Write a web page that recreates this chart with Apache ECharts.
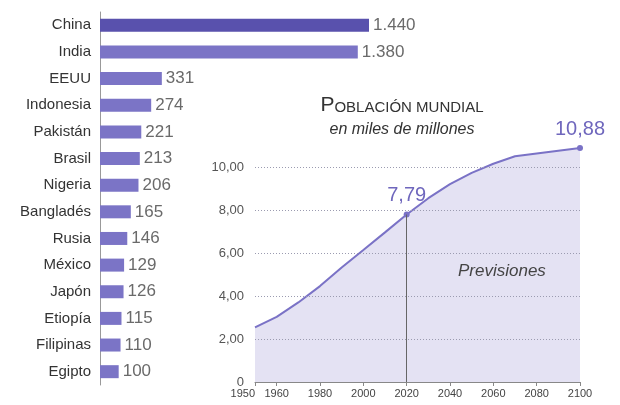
<!DOCTYPE html>
<html>
<head>
<meta charset="utf-8">
<script src="https://cdn.jsdelivr.net/npm/echarts@6/dist/echarts.min.js"></script>
<style>
  html, body { margin: 0; padding: 0; background: #fff; }
  #chart { width: 620px; height: 405px; }
</style>
</head>
<body>
<div id="chart"></div>
<script>
// población por país (millones)
const countries = ['China', 'India', 'EEUU', 'Indonesia', 'Pakistán', 'Brasil', 'Nigeria',
  'Bangladés', 'Rusia', 'México', 'Japón', 'Etiopía', 'Filipinas', 'Egipto'];
const populations = [1440, 1380, 331, 274, 221, 213, 206, 165, 146, 129, 126, 115, 110, 100];

// población mundial (miles de millones)
const years = [1950, 1960, 1970, 1980, 1990, 2000, 2010, 2020, 2030, 2040, 2050, 2060, 2070, 2080, 2090, 2100];
const worldPop = [2.54, 3.03, 3.7, 4.46, 5.33, 6.14, 6.96, 7.79, 8.55, 9.2, 9.73, 10.15, 10.5, 10.63, 10.76, 10.88];
const yearTicks = [1950, 1960, 1980, 2000, 2020, 2040, 2060, 2080, 2100];

const font = '"Liberation Sans Narrow", "Liberation Sans", sans-serif';
const purple = '#6f67bd';

const fmtThousands = v => String(v).replace(/\B(?=(\d{3})+(?!\d))/g, '.');
const fmtDec = v => v === 0 ? '0' : v.toFixed(2).replace('.', ',');

const myChart = echarts.init(document.getElementById('chart'));

const lineData = years.map((y, i) => {
  const item = { value: [y, worldPop[i]] };
  if (y === 2020 || y === 2100) {
    item.symbol = 'circle';
    item.symbolSize = 6;
    item.label = {
      show: true,
      position: 'top',
      distance: 6,
      formatter: p => fmtDec(p.value[1]),
      color: purple,
      fontSize: 20,
      fontFamily: font
    };
  }
  return item;
});

const option = {
  animation: false,
  textStyle: { fontFamily: font },
  title: {
    text: '{big|P}{small|OBLACIÓN MUNDIAL}',
    subtext: 'en miles de millones',
    left: 397,
    top: 90,
    textAlign: 'center',
    itemGap: 6,
    textStyle: {
      fontWeight: 'normal',
      rich: {
        big: { fontSize: 21, color: '#333', fontWeight: 'normal', fontFamily: font },
        small: { fontSize: 15, color: '#333', fontWeight: 'normal', fontFamily: font, verticalAlign: 'bottom', padding: [0, 0, 1, 0] }
      }
    },
    subtextStyle: { fontSize: 16, fontStyle: 'italic', color: '#333', fontFamily: font }
  },
  graphic: [{
    type: 'text',
    left: 458,
    top: 263,
    z: 10,
    style: { text: 'Previsiones', fill: '#444', font: 'italic 17px "Liberation Sans Narrow", "Liberation Sans", sans-serif' }
  }],
  grid: [
    { left: 100, top: 12, width: 269, height: 373 },
    { left: 255, top: 167, width: 325, height: 215 }
  ],
  xAxis: [
    { type: 'value', gridIndex: 0, min: 0, max: 1440, show: false },
    {
      type: 'value', gridIndex: 1, min: 1950, max: 2100, interval: 10,
      z: 5,
      axisLine: { lineStyle: { color: '#888' } },
      axisTick: { length: 4, lineStyle: { color: '#888' }, customValues: yearTicks },
      axisLabel: {
        color: '#444', fontSize: 11, margin: 6, customValues: yearTicks,
        alignMinLabel: 'right', hideOverlap: false,
        showMinLabel: true, showMaxLabel: true, formatter: v => String(v)
      },
      splitLine: { show: false }
    }
  ],
  yAxis: [
    {
      type: 'category', gridIndex: 0, data: countries, inverse: true,
      axisLine: { lineStyle: { color: '#999' } },
      axisTick: { show: false },
      axisLabel: { color: '#333', fontSize: 15, margin: 9 }
    },
    {
      type: 'value', gridIndex: 1, min: 0, max: 10, interval: 2,
      z: 5,
      axisLine: { show: false },
      axisTick: { show: false },
      axisLabel: { color: '#555', fontSize: 13, margin: 11, formatter: fmtDec },
      splitLine: { lineStyle: { color: '#9b9bb0', type: [1, 2], width: 1 } }
    }
  ],
  series: [
    {
      type: 'bar',
      xAxisIndex: 0, yAxisIndex: 0,
      data: populations.map((v, i) => ({
        value: v,
        itemStyle: { color: i === 0 ? '#5951ad' : '#7b74c6' }
      })),
      barWidth: 13,
      label: {
        show: true, position: 'right', distance: 4,
        formatter: p => fmtThousands(p.value),
        color: '#6a6a6a', fontSize: 17
      }
    },
    {
      type: 'line',
      xAxisIndex: 1, yAxisIndex: 1,
      data: lineData,
      clip: false,
      showSymbol: true,
      symbol: 'none',
      lineStyle: { color: '#7a72c6', width: 2 },
      itemStyle: { color: '#7a72c6' },
      areaStyle: { color: '#e4e2f3', opacity: 1 },
      z: 1,
      markLine: {
        symbol: 'none',
        silent: true,
        label: { show: false },
        data: [
          [{ coord: [2020, 0] }, { coord: [2020, 7.79] }],
          [{ coord: [2100, 0], lineStyle: { color: '#b8b8c8' } }, { coord: [2100, 10.88] }]
        ],
        lineStyle: { color: '#666', type: 'solid', width: 1 }
      }
    }
  ]
};

myChart.setOption(option);
</script>
</body>
</html>
